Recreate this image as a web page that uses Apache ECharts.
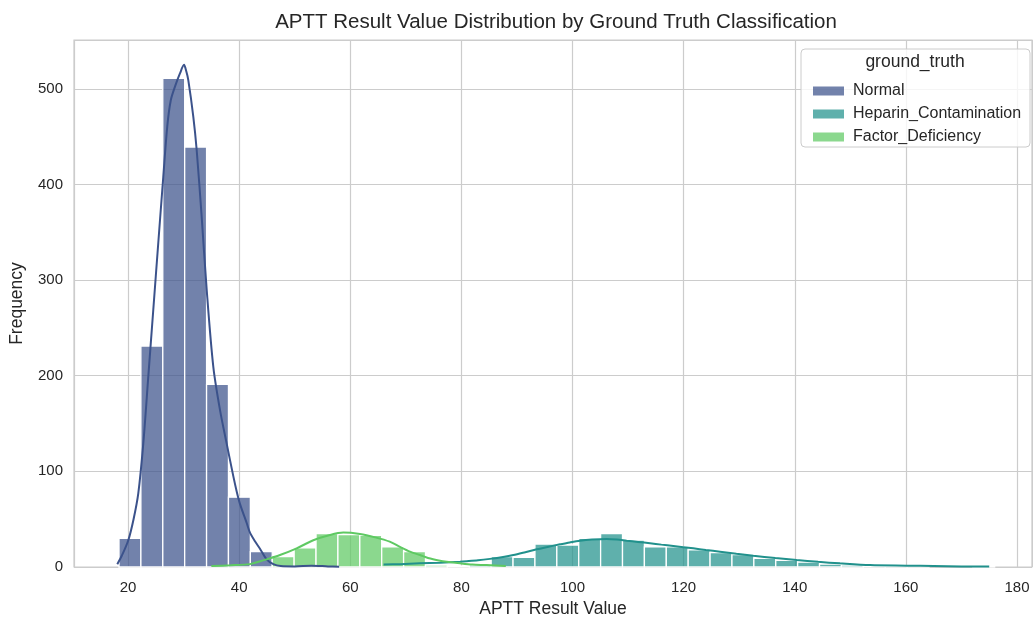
<!DOCTYPE html>
<html>
<head>
<meta charset="utf-8">
<script src="https://cdn.jsdelivr.net/npm/echarts@6/dist/echarts.min.js"></script>
<style>
  html,body{margin:0;padding:0;background:#fff;}
  #main{width:1033px;height:617px;}
</style>
</head>
<body>
<div id="main"></div>
<script>
// shared histogram bins (40 bins)
var binStart = 18.38;
var binWidth = 3.94;

var groups = ['Normal', 'Heparin_Contamination', 'Factor_Deficiency'];
var lineColors = ['#3b528b', '#21918c', '#5ec962'];

// counts per bin
var normalCounts = [30,231,511,439,191,73,16,0,0,0, 0,0,0,0,0,0,0,0,0,0, 0,0,0,0,0,0,0,0,0,0, 0,0,0,0,0,0,0,0,0,0];
var heparinCounts = [0,0,0,0,0,0,0,0,0,0, 0,0,0,0,0,0,2,11,10,24, 23,30,35,28,21,21,18,15,13,9, 7,5,3,2,1,1,1,0,0,1];
var factorCounts = [0,0,0,0,0,0,0,11,20,35, 34,33,21,16,2,1,0,0,0,0, 0,0,0,0,0,0,0,0,0,0, 0,0,0,0,0,0,0,0,0,0];

// kde curves [x, frequency]
var normalKde = [[18.07,3],[18.9,12],[20.05,28],[21.0,50],[21.85,77],[22.75,129],[23.65,199],[24.55,269],[25.45,339],[26.35,408],[27.07,461],[27.7,488],[28.5,503],[29.35,516],[30.08,525],[30.5,518],[30.85,509],[31.75,471],[32.36,436],[33.26,366],[34.16,290],[35.36,209],[36.56,164],[37.76,129],[38.95,95],[39.56,79],[40.15,66],[41.36,46],[41.95,36],[42.85,27],[43.75,19],[44.95,8],[46.15,3],[47.5,1],[50,0.6],[53,1.4],[56,0.6],[58,0.2]];
var heparinKde = [[66,2.5],[68.95,3],[72.5,3.8],[76.15,4.5],[79.75,5.5],[80.95,6],[83,7],[85.15,8.5],[87.5,10.5],[89.35,12.5],[91.5,15.5],[93.55,18.5],[95.5,21],[97.75,23.7],[99.5,25.7],[101.35,27.5],[103.5,28.7],[106.15,29.3],[108,28.7],[109.75,27.5],[111.8,26.2],[113.95,24.8],[116,23.4],[118.15,22],[121.75,19.5],[124,17.8],[126.55,16],[129.5,13.8],[132.55,11.8],[136.5,9.4],[140.35,7.3],[144.2,5.4],[148.15,3.8],[153.55,2],[160.15,1.4],[165,1],[170,0.6],[175,0.4]];
var factorKde = [[35,1],[38.5,1.8],[41.95,3],[43.5,5.5],[44.95,8],[47.35,12.5],[50.35,19.5],[53.35,28],[56.35,33.5],[58.75,36],[61.75,34.5],[64.5,31],[67.1,26.5],[68.95,21],[70.75,16],[72.55,12.5],[74,9.5],[76.15,6.6],[77.35,5.5],[79.75,3.8],[82,2.5],[84.55,2],[88,1]];

var xMin = 10.28, xMax = 182.7;
var yMax = 551;

var font = '"Liberation Sans", Arial, sans-serif';
var txt = '#262626';

function hexA(hex, a) {
    var r = parseInt(hex.substr(1,2),16), g = parseInt(hex.substr(3,2),16), b = parseInt(hex.substr(5,2),16);
    return 'rgba(' + r + ',' + g + ',' + b + ',' + a + ')';
}

function histSeries(name, counts, color) {
    var data = [];
    counts.forEach(function (c, i) {
        if (c > 0) data.push([binStart + i * binWidth, binStart + (i + 1) * binWidth, c]);
    });
    var fill = hexA(color, 0.72);
    return {
        type: 'custom',
        name: name,
        z: 2,
        itemStyle: {color: fill},
        encode: {x: [0, 1], y: 2},
        data: data,
        renderItem: function (params, api) {
            var p0 = api.coord([api.value(0), api.value(2)]);
            var p1 = api.coord([api.value(1), 0]);
            return {
                type: 'rect',
                shape: {x: p0[0], y: p0[1], width: p1[0] - p0[0], height: p1[1] - p0[1]},
                style: {fill: fill, stroke: '#ffffff', lineWidth: 1.3}
            };
        }
    };
}

function kdeSeries(name, pts, color) {
    return {
        type: 'line',
        name: name + '_kde',
        data: pts,
        showSymbol: false,
        smooth: 0.3,
        z: 5,
        lineStyle: {color: color, width: 2},
        itemStyle: {color: color},
        silent: true
    };
}

var myChart = echarts.init(document.getElementById('main'));
var option = {
    backgroundColor: '#ffffff',
    animation: false,
    grid: {left: 74, right: 1, top: 40, bottom: 50, containLabel: false, outerBoundsMode: 'none',
           show: true, borderColor: '#cccccc', borderWidth: 1.2, backgroundColor: 'transparent'},
    xAxis: {
        type: 'value', min: xMin, max: xMax, splitNumber: 8,
        name: 'APTT Result Value', nameLocation: 'middle', nameGap: 32,
        nameTextStyle: {fontFamily: font, fontSize: 17.5, color: txt},
        axisLine: {show: false}, axisTick: {show: false},
        axisLabel: {showMinLabel: false, showMaxLabel: false, fontFamily: font, fontSize: 15, color: txt, margin: 13},
        splitLine: {lineStyle: {color: '#cccccc', width: 1.2}}
    },
    yAxis: {
        type: 'value', min: 0, max: yMax, splitNumber: 5,
        name: 'Frequency', nameLocation: 'middle', nameGap: 48,
        nameTextStyle: {fontFamily: font, fontSize: 17.5, color: txt},
        axisLine: {show: false}, axisTick: {show: false},
        axisLabel: {showMaxLabel: false, fontFamily: font, fontSize: 15, color: txt, margin: 11},
        splitLine: {lineStyle: {color: '#cccccc', width: 1.2}}
    },
    legend: {
        data: groups,
        orient: 'vertical',
        left: 808, top: 78,
        itemWidth: 31, itemHeight: 9, itemGap: 7,
        icon: 'rect',
        z: 20,
        textStyle: {fontFamily: font, fontSize: 16, color: txt, lineHeight: 16, padding: [0, 0, 0, 4]}
    },
    graphic: [
        {type: 'text', x: 556, y: 22, z: 20,
         style: {text: 'APTT Result Value Distribution by Ground Truth Classification', font: '20.5px ' + font, fill: txt, textAlign: 'center', textVerticalAlign: 'middle'}},
        {type: 'rect', z: 15, shape: {x: 801, y: 49, width: 229, height: 98, r: 4},
         style: {fill: 'rgba(255,255,255,0.8)', stroke: '#cccccc', lineWidth: 1}},
        {type: 'text', x: 915, y: 62, z: 20,
         style: {text: 'ground_truth', font: '17.5px ' + font, fill: txt, textAlign: 'center', textVerticalAlign: 'middle'}}
    ],
    series: [
        histSeries(groups[0], normalCounts, lineColors[0]),
        histSeries(groups[1], heparinCounts, lineColors[1]),
        histSeries(groups[2], factorCounts, lineColors[2]),
        kdeSeries(groups[0], normalKde, lineColors[0]),
        kdeSeries(groups[1], heparinKde, lineColors[1]),
        kdeSeries(groups[2], factorKde, lineColors[2])
    ]
};
myChart.setOption(option);
</script>
</body>
</html>
